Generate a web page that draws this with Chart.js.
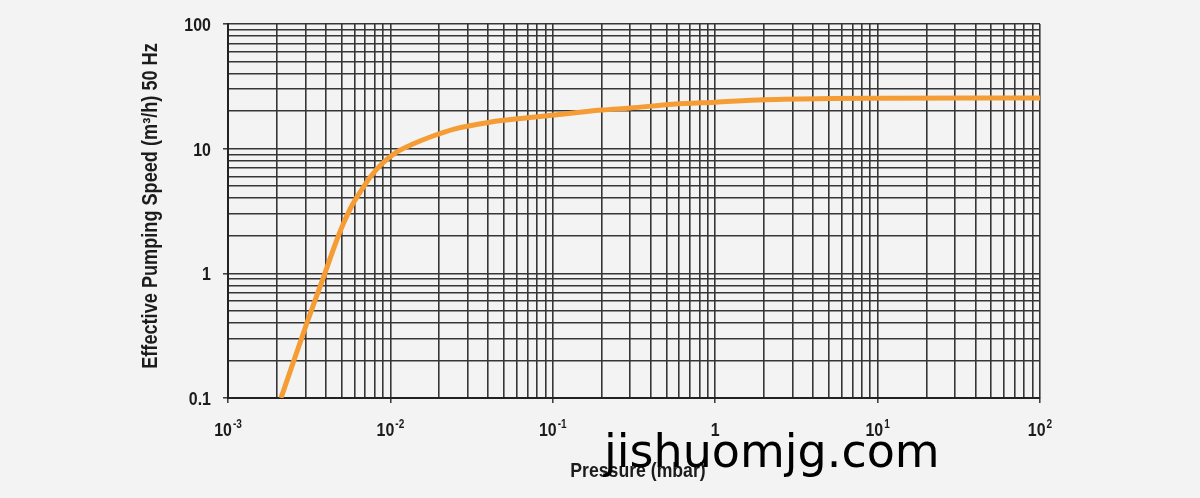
<!DOCTYPE html>
<html>
<head>
<meta charset="utf-8">
<script src="https://cdn.jsdelivr.net/npm/chart.js@4.4.1/dist/chart.umd.min.js"></script>
<style>
html,body{margin:0;padding:0;background:#f3f3f3;overflow:hidden;}
#wrap{width:1200px;height:498px;position:relative;}
</style>
</head>
<body>
<div id="wrap"><canvas id="c" width="1200" height="498"></canvas></div>
<script>
// ---- data ----
const pressure = [0.00212, 0.00306, 0.00395, 0.0046, 0.00513, 0.0058, 0.0066, 0.0075, 0.009, 0.0108, 0.014, 0.0176, 0.025, 0.041, 0.07, 0.1, 0.2, 0.3, 0.55, 1.0, 2.0, 5.0, 10, 100];
const speed    = [0.1,     0.4,     1.0,     1.75,   2.5,     3.5,    4.6,    5.9,    7.7,   9.3,    11.0,  12.4,   14.4,  16.3,  17.7, 18.6, 20.4, 21.2, 22.7, 23.6, 24.7, 25.3, 25.4, 25.5];

const xDecades = [0.001, 0.01, 0.1, 1, 10];
const yDecades = [0.1, 1, 10];
const multipliers = [1, 2, 3, 4, 5, 6, 7, 8, 9];

const xMajorValues = [0.001, 0.01, 0.1, 1, 10, 100];
const xMajorBase   = ['10', '10', '10', '1', '10', '10'];
const xMajorExp    = ['-3', '-2', '-1', '', '1', '2'];

const yMajorValues = [0.1, 1, 10, 100];
const yMajorLabels = ['0.1', '1', '10', '100'];

const xTitle = 'Pressure (mbar)';
const yTitle = 'Effective Pumping Speed (m³/h) 50 Hz';
const watermark = 'jishuomjg.com';

// tick position lists (1..9 per decade)
const xTickValues = [];
xDecades.forEach(d => multipliers.forEach(m => xTickValues.push(Number((m * d).toPrecision(3)))));
xTickValues.push(100);
const yTickValues = [];
yDecades.forEach(d => multipliers.forEach(m => yTickValues.push(Number((m * d).toPrecision(3)))));
yTickValues.push(100);

const FONT = '"Liberation Sans", Arial, sans-serif';
const SX = 0.84;            // horizontal condensing of label text
const TEXT = '#1c1c1c';
const GRID = '#363636';

const isMajor = (arr, v) => arr.some(a => Math.abs(a - v) / a < 1e-6);

function condText(c, text, x, y, font, align, baseline, rot) {
  c.save();
  c.translate(x, y);
  if (rot) c.rotate(rot);
  c.scale(SX, 1);
  c.font = font;
  c.textAlign = align;
  c.textBaseline = baseline;
  c.fillText(text, 0, 0);
  c.restore();
}

const overlay = {
  id: 'overlay',
  afterDraw(chart) {
    const c = chart.ctx, xs = chart.scales.x, ys = chart.scales.y;
    c.save();
    c.fillStyle = TEXT;
    const baseFont = 'bold 19px ' + FONT;
    const expFont = 'bold 12px ' + FONT;
    // x tick labels with superscripts
    xMajorValues.forEach((v, i) => {
      const px = xs.getPixelForValue(v);
      c.font = baseFont;
      const wb = c.measureText(xMajorBase[i]).width * SX;
      c.font = expFont;
      const we = xMajorExp[i] ? c.measureText(xMajorExp[i]).width * SX + 1 : 0;
      const start = px - (wb + we) / 2;
      condText(c, xMajorBase[i], start, 436, baseFont, 'left', 'alphabetic');
      if (xMajorExp[i]) condText(c, xMajorExp[i], start + wb + 1, 428, expFont, 'left', 'alphabetic');
    });
    // y tick labels
    yMajorValues.forEach((v, i) => {
      const py = ys.getPixelForValue(v);
      condText(c, yMajorLabels[i], 211, py + 7, baseFont, 'right', 'alphabetic');
    });
    // axis titles
    condText(c, xTitle, 638, 477, 'bold 21px ' + FONT, 'center', 'alphabetic');
    condText(c, yTitle, 157, 206, 'bold 21.6px ' + FONT, 'center', 'alphabetic', -Math.PI / 2);
    // watermark
    c.fillStyle = '#000';
    c.font = '46px "DejaVu Sans", sans-serif';
    c.textAlign = 'left';
    c.textBaseline = 'alphabetic';
    c.fillText(watermark, 604, 467);
    c.restore();
  }
};

const gridOpts = {
  color: GRID, lineWidth: 1.6, drawTicks: true, tickLength: 5, tickWidth: 1.5,
  tickColor: ctx => (ctx.tick && ctx.tick.major) ? GRID : 'rgba(0,0,0,0)'
};

new Chart(document.getElementById('c'), {
  type: 'line',
  data: {
    datasets: [{
      data: pressure.map((p, i) => ({ x: p, y: speed[i] })),
      borderColor: '#f59c35',
      borderWidth: 5,
      pointRadius: 0,
      fill: false,
      cubicInterpolationMode: 'monotone'
    }]
  },
  options: {
    responsive: false,
    animation: false,
    devicePixelRatio: 1,
    layout: { padding: { left: 0, top: 24, right: 160, bottom: 0 } },
    plugins: { legend: { display: false }, tooltip: { enabled: false } },
    scales: {
      x: {
        type: 'logarithmic',
        min: 0.001, max: 100,
        afterBuildTicks: s => { s.ticks = xTickValues.map(v => ({ value: v, major: isMajor(xMajorValues, v) })); },
        afterFit: s => { s.height = 100; },
        ticks: { display: false, autoSkip: false },
        grid: gridOpts,
        border: { display: true, color: '#222', width: 2 }
      },
      y: {
        type: 'logarithmic',
        min: 0.1, max: 100,
        afterBuildTicks: s => { s.ticks = yTickValues.map(v => ({ value: v, major: isMajor(yMajorValues, v) })); },
        afterFit: s => { s.width = 228; },
        ticks: { display: false, autoSkip: false },
        grid: gridOpts,
        border: { display: true, color: '#222', width: 2 }
      }
    }
  },
  plugins: [overlay]
});
</script>
</body>
</html>
